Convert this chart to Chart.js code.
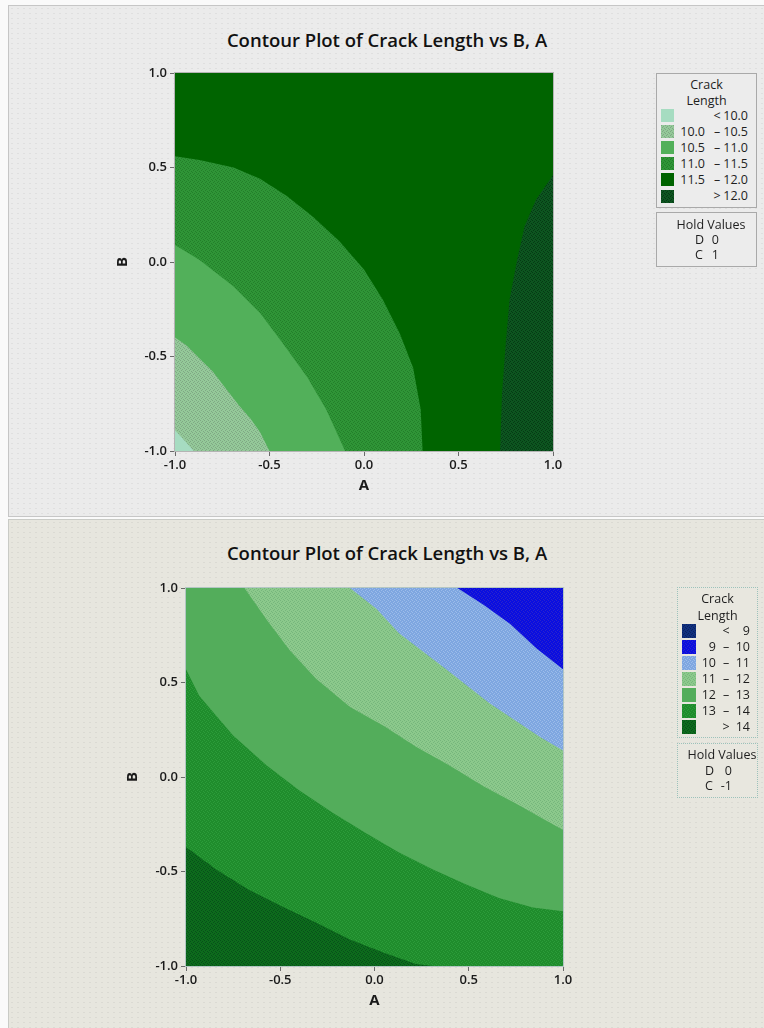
<!DOCTYPE html>
<html>
<head>
<meta charset="utf-8">
<title>Contour Plot of Crack Length vs B, A</title>
<script src="https://cdn.jsdelivr.net/npm/chart.js@4.4.1/dist/chart.umd.min.js"></script>
<style>
  body { margin: 0; width: 764px; height: 1028px; position: relative; overflow: hidden; background: #fafafa;
         font-family: 'Open Sans', 'Noto Sans', sans-serif; color: #1b1b1b; }
  .panel { position: absolute; left: 8px; width: 756px; box-sizing: border-box; background-size: 6px 5px; }
  #panelTop { top: 5px; height: 512px; background-color: #ebebeb; border: 1px solid #c6c6c6; border-right: none;
              background-image: radial-gradient(circle, rgba(0,0,0,0.05) 0.7px, transparent 1px); }
  #panelBottom { top: 519px; height: 509px; background-color: #e7e6de; border: 1px solid #c9cbc6; border-right: none; border-bottom: none;
                 background-image: radial-gradient(circle, rgba(0,0,0,0.05) 0.7px, transparent 1px); }
  .chart-title { position: absolute; left: 0; width: 774px; text-align: center; font-size: 18.5px; font-weight: 600; line-height: 24px; color: #111; }
  canvas { position: absolute; left: 0; }
  .box { position: absolute; box-sizing: border-box; font-size: 12.5px; line-height: 16px; color: #1e1e1e; }
  .box span { position: absolute; white-space: nowrap; }
</style>
</head>
<body>
<div id="panelTop" class="panel"></div>
<div id="panelBottom" class="panel"></div>
<div class="chart-title" style="top:28px">Contour Plot of Crack Length vs B, A</div>
<div class="chart-title" style="top:541px">Contour Plot of Crack Length vs B, A</div>
<canvas id="chartTop" width="764" height="518" style="top:0"></canvas>
<canvas id="chartBottom" width="764" height="508" style="top:520px"></canvas>

<script>
// 兩張等高線圖：Crack Length vs B, A（上：C = 1，下：C = -1）
// 等高線以 (A, B) 座標點列出，每個色帶 = 等高線 + 角落點，用 fill:'shape' 疊色

const axisTicks = [-1, -0.5, 0, 0.5, 1];
const axisTickLabels = ['-1.0', '-0.5', '0.0', '0.5', '1.0'];

// ---- 上圖（Hold D 0, C 1）----
const topBandLow  = [null, 10.0, 10.5, 11.0, 11.5, 12.0];
const topBandHigh = [10.0, 10.5, 11.0, 11.5, 12.0, null];
const topHoldNames  = ['D', 'C'];
const topHoldValues = ['0', '1'];

const top100A = [-1.00, -0.95, -0.90];
const top100B = [-0.89, -0.945, -1.00];
const top105A = [-1.00, -0.94, -0.87, -0.80, -0.73, -0.66, -0.60, -0.55, -0.50];
const top105B = [-0.40, -0.44, -0.51, -0.58, -0.67, -0.76, -0.83, -0.90, -1.00];
const top110A = [-1.00, -0.87, -0.69, -0.55, -0.43, -0.30, -0.20, -0.10];
const top110B = [0.09, 0.01, -0.13, -0.27, -0.43, -0.61, -0.78, -1.00];
const top115A = [-1.00, -0.87, -0.69, -0.55, -0.41, -0.27, -0.13, 0.00, 0.10, 0.19, 0.26, 0.30, 0.31];
const top115B = [0.56, 0.54, 0.50, 0.44, 0.35, 0.24, 0.11, -0.04, -0.20, -0.38, -0.56, -0.78, -1.00];
const top120A = [1.00, 0.91, 0.85, 0.81, 0.77, 0.75, 0.73, 0.72];
const top120B = [0.46, 0.33, 0.19, 0.01, -0.20, -0.43, -0.70, -1.00];

// ---- 下圖（Hold D 0, C -1）----
const botBandLow  = [null, 9, 10, 11, 12, 13, 14];
const botBandHigh = [9, 10, 11, 12, 13, 14, null];
const botHoldNames  = ['D', 'C'];
const botHoldValues = ['0', '-1'];

const bot10A = [0.44, 0.58, 0.72, 0.86, 1.00];
const bot10B = [1.00, 0.91, 0.81, 0.68, 0.57];
const bot11A = [-0.13, 0.01, 0.13, 0.38, 0.61, 0.88, 1.00];
const bot11B = [1.00, 0.89, 0.76, 0.57, 0.39, 0.21, 0.14];
const bot12A = [-0.69, -0.57, -0.45, -0.31, -0.13, 0.05, 0.22, 0.40, 0.58, 0.75, 1.00];
const bot12B = [1.00, 0.83, 0.67, 0.52, 0.37, 0.27, 0.16, 0.06, -0.05, -0.14, -0.28];
const bot13A = [-1.00, -0.93, -0.75, -0.57, -0.40, -0.22, -0.04, 0.13, 0.31, 0.49, 0.66, 0.84, 1.00];
const bot13B = [0.57, 0.43, 0.22, 0.06, -0.07, -0.19, -0.30, -0.40, -0.49, -0.57, -0.64, -0.69, -0.71];
const bot14A = [-1.00, -0.84, -0.66, -0.48, -0.31, -0.13, 0.05, 0.22, 0.31];
const bot14B = [-0.37, -0.49, -0.60, -0.69, -0.77, -0.86, -0.93, -0.99, -1.00];

// 色帶顏色（低 → 高），[底色, 點紋色]
const topColors = [
  ['#a6dcc1', null],
  ['#94c999', '#7fa884'],
  ['#52b05a', null],
  ['#2f9537', '#237f2a'],
  ['#006400', null],
  ['#0d5520', '#053a14'],
];
const botColors = [
  ['#10307f', '#0a2260'],
  ['#0a0ee0', '#2a24cc'],
  ['#7ea6e0', '#9cbcea'],
  ['#8cc98c', '#76b67c'],
  ['#53ad5b', null],
  ['#1f8c2c', '#2c9c3a'],
  ['#0d6b1c', '#07501a'],
];

// 小圖樣：底色 + 斜向點紋
function textureCanvas(base, dot) {
  const c = document.createElement('canvas');
  c.width = 4; c.height = 4;
  const g = c.getContext('2d');
  g.fillStyle = base;
  g.fillRect(0, 0, 4, 4);
  if (dot) {
    g.fillStyle = dot;
    g.fillRect(0, 0, 1, 1); g.fillRect(2, 1, 1, 1);
    g.fillRect(1, 2, 1, 1); g.fillRect(3, 3, 1, 1);
  }
  return c;
}
function texture(pair) {
  const c = textureCanvas(pair[0], pair[1]);
  return c.getContext('2d').createPattern(c, 'repeat');
}

function pts(aArr, bArr) {
  return aArr.map((a, i) => ({ x: a, y: bArr[i] }));
}

// 色帶：等高線點 + 角落，閉合後填色
function band(line, corners, pair) {
  const data = [...line, ...corners.map(([x, y]) => ({ x, y }))];
  data.push(data[0]);
  return {
    data,
    fill: 'shape',
    backgroundColor: texture(pair),
    borderWidth: 0,
    pointRadius: 0,
    tension: 0,
  };
}

const FONT = "'Open Sans', 'Noto Sans', sans-serif";

const framePlugin = {
  id: 'frame',
  afterDraw(chart, args, opts) {
    const { ctx, chartArea: a } = chart;
    ctx.save();
    ctx.strokeStyle = opts.color || '#b5b5b5';
    ctx.lineWidth = 1;
    ctx.strokeRect(a.left - 0.5, a.top - 0.5, a.right - a.left + 1, a.bottom - a.top + 1);
    ctx.restore();
  },
};

function axis(title, fitSize, horizontal) {
  return {
    type: 'linear', min: -1, max: 1,
    afterBuildTicks: (s) => { s.ticks = axisTicks.map((v) => ({ value: v })); },
    afterFit: (s) => { if (horizontal) s.height = fitSize; else s.width = fitSize; },
    ticks: {
      callback: (v) => axisTickLabels[axisTicks.indexOf(v)],
      color: '#1a1a1a', padding: horizontal ? 1 : 3,
      font: { family: FONT, size: 13, weight: '600' },
      maxRotation: 0, autoSkip: false,
    },
    grid: { drawOnChartArea: false, tickLength: 5, color: '#6a6a6a' },
    border: { display: false },
    title: { display: true, text: title, color: '#1a1a1a', font: { family: FONT, size: 15, weight: '700' } },
  };
}

function makeChart(id, datasets, layout, frameColor) {
  new Chart(document.getElementById(id), {
    type: 'line',
    data: { datasets },
    options: {
      responsive: false,
      animation: false,
      events: [],
      layout: { padding: layout.padding },
      plugins: { legend: { display: false }, tooltip: { enabled: false }, frame: { color: frameColor } },
      scales: {
        x: axis('A', layout.xHeight, true),
        y: axis('B', layout.yWidth, false),
      },
    },
    plugins: [framePlugin],
  });
}

// ---- 上圖色帶（底層 → 上層）----
const topDatasets = [
  band([], [[-1, -1], [1, -1], [1, 1], [-1, 1]], topColors[4]),
  band(pts(top115A, top115B), [[-1, -1]], topColors[3]),
  band(pts(top110A, top110B), [[-1, -1]], topColors[2]),
  band(pts(top105A, top105B), [[-1, -1]], topColors[1]),
  band(pts(top100A, top100B), [[-1, -1]], topColors[0]),
  band(pts(top120A, top120B), [[1, -1]], topColors[5]),
].reverse();

// ---- 下圖色帶 ----
const botDatasets = [
  band([], [[-1, -1], [1, -1], [1, 1], [-1, 1]], botColors[4]),
  band(pts(bot12A, bot12B), [[1, 1]], botColors[3]),
  band(pts(bot11A, bot11B), [[1, 1]], botColors[2]),
  band(pts(bot10A, bot10B), [[1, 1]], botColors[1]),
  band(pts(bot13A, bot13B), [[1, -1], [-1, -1]], botColors[5]),
  band(pts(bot14A, bot14B), [[-1, -1]], botColors[6]),
].reverse();

makeChart('chartTop', topDatasets,
  { padding: { left: 110, right: 211, top: 73, bottom: 19 }, yWidth: 65, xHeight: 48 }, '#b4b4b4');
makeChart('chartBottom', botDatasets,
  { padding: { left: 120, right: 201, top: 68, bottom: 14 }, yWidth: 66, xHeight: 48 }, '#b3c6c3');

// ---- 圖例與 Hold Values（HTML）----
function addText(box, text, top, opt) {
  const s = document.createElement('span');
  s.textContent = text;
  s.style.top = (top - 8) + 'px';
  if (opt.center != null) { s.style.left = (opt.center - 30) + 'px'; s.style.width = '60px'; s.style.textAlign = 'center'; }
  if (opt.right != null) { s.style.left = (opt.right - 40) + 'px'; s.style.width = '40px'; s.style.textAlign = 'right'; }
  if (opt.left != null) { s.style.left = opt.left + 'px'; }
  box.appendChild(s);
}

function makeBox(cfg) {
  const box = document.createElement('div');
  box.className = 'box';
  Object.assign(box.style, {
    left: cfg.left + 'px', top: cfg.top + 'px', width: cfg.width + 'px', height: cfg.height + 'px',
    border: cfg.border, background: cfg.bg,
  });
  document.body.appendChild(box);
  return box;
}

function buildLegend(cfg, lows, highs, colors, fmt) {
  const box = makeBox(cfg);
  addText(box, 'Crack', cfg.titleY[0], { center: cfg.width / 2 - 1 });
  addText(box, 'Length', cfg.titleY[1], { center: cfg.width / 2 - 1 });
  lows.forEach((lo, i) => {
    const hi = highs[i];
    const y = cfg.row0 + i * cfg.rowStep;
    const sw = textureCanvas(colors[i][0], colors[i][1]);
    const sq = document.createElement('span');
    Object.assign(sq.style, {
      left: cfg.swatchX + 'px', top: (y - cfg.swatch / 2) + 'px', width: cfg.swatch + 'px', height: cfg.swatch + 'px',
      backgroundImage: `url(${sw.toDataURL()})`,
    });
    box.appendChild(sq);
    if (lo == null) {
      addText(box, '<', y, { center: cfg.symX });
      addText(box, fmt(hi), y, { right: cfg.highR });
    } else if (hi == null) {
      addText(box, '>', y, { center: cfg.symX });
      addText(box, fmt(lo), y, { right: cfg.highR });
    } else {
      addText(box, fmt(lo), y, { right: cfg.lowR });
      addText(box, '–', y, { center: cfg.symX });
      addText(box, fmt(hi), y, { right: cfg.highR });
    }
  });
}

function buildHold(cfg, names, values) {
  const box = makeBox(cfg);
  addText(box, 'Hold Values', cfg.titleY, { center: cfg.width / 2 - 1 });
  names.forEach((n, i) => {
    const y = cfg.row0 + i * cfg.rowStep;
    addText(box, n, y, { left: cfg.nameX });
    addText(box, values[i], y, { right: cfg.valR });
  });
}

buildLegend({ left: 656, top: 73, width: 101, height: 135, border: '1px solid #a9a9a9', bg: '#ececec',
  titleY: [11, 27], row0: 41.5, rowStep: 16.1, swatchX: 4, swatch: 13, lowR: 48, symX: 60, highR: 91 },
  topBandLow, topBandHigh, topColors, (v) => v.toFixed(1));
buildHold({ left: 656, top: 212, width: 101, height: 55, border: '1px solid #a9a9a9', bg: '#ececec',
  titleY: 12, row0: 27, rowStep: 14.5, nameX: 38, valR: 62 }, topHoldNames, topHoldValues);

buildLegend({ left: 677, top: 587, width: 81, height: 151, border: '1px dotted #9cc2bb', bg: '#e8e7df',
  titleY: [11, 28], row0: 43, rowStep: 16, swatchX: 4, swatch: 14, lowR: 38, symX: 48, highR: 72 },
  botBandLow, botBandHigh, botColors, (v) => String(v));
buildHold({ left: 677, top: 743, width: 81, height: 55, border: '1px dotted #9cc2bb', bg: '#e8e7df',
  titleY: 11, row0: 27, rowStep: 15, nameX: 27, valR: 54 }, botHoldNames, botHoldValues);
</script>
</body>
</html>
